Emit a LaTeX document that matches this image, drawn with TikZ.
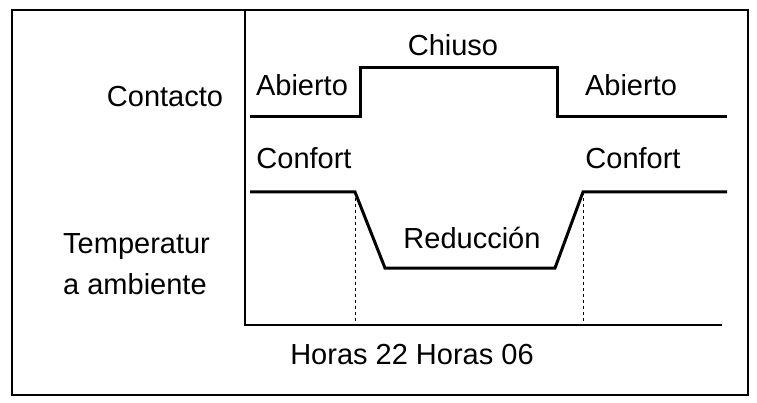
\documentclass[tikz,border=0pt]{standalone}
\usepackage{fontspec}
\setmainfont{Liberation Sans}
\begin{document}
\begin{tikzpicture}[x=1pt,y=-1pt,
  lbl/.style={font=\fontsize{29}{33}\selectfont,inner sep=0pt},
  sig/.style={line width=3pt},
  ax/.style={line width=1.2pt}]
\useasboundingbox (0,0) rectangle (757,403);
\draw[line width=1.5pt] (12,10) rectangle (748,395);
\coordinate (a0) at (245,10);
\coordinate (a1) at (245,325);
\coordinate (a2) at (722,325);
\draw[ax] (a0) -- (a1) -- (a2);
\draw[sig] (250,117) -- (360,117) -- (360,68) -- (557,68) -- (557,117) -- (727,117);
\draw[sig] (250,192) -- (355,192) -- (385,268) -- (555,268) -- (583,192) -- (727,192);
\draw[dashed,thin] (355,192) -- (355,325);
\draw[dashed,thin] (583,192) -- (583,325);
\node[lbl] (chiuso) at (453,45) {Chiuso};
\node[lbl] (ab1) at (302,85) {Abierto};
\node[lbl] (ab2) at (631,85) {Abierto};
\node[lbl] (cont) at (165,97) {Contacto};
\node[lbl] (cf1) at (304,158) {Confort};
\node[lbl] (cf2) at (633,158) {Confort};
\node[lbl] (red) at (472,238) {Reducción};
\node[lbl,anchor=west] (t1) at (63,247) {Temperatur};
\node[lbl,anchor=west] (t2) at (63,284) {a ambiente};
\node[lbl] (hrs) at (412,355) {Horas 22 Horas 06};
\end{tikzpicture}
\end{document}
